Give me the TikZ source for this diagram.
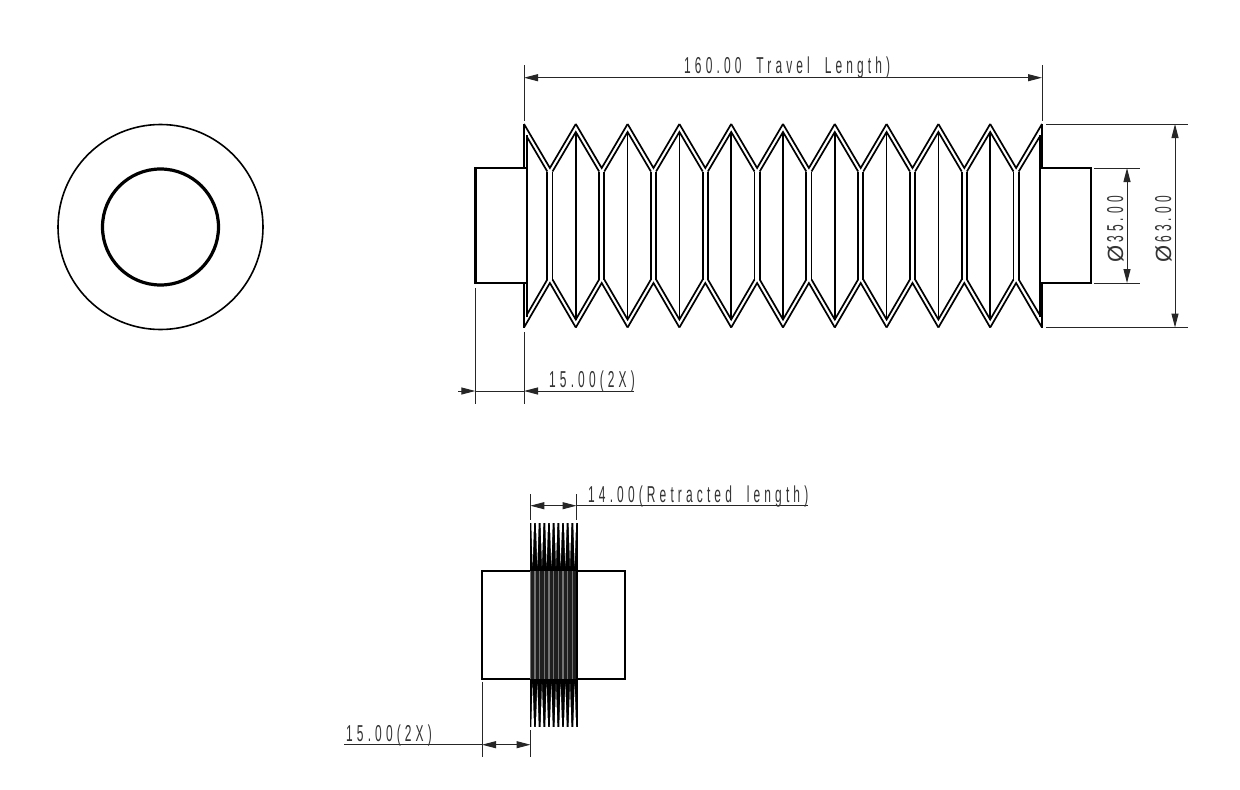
\documentclass[tikz,border=0pt]{standalone}
\usepackage{fontspec}
\usetikzlibrary{arrows.meta}
\newfontfamily\dimfont[FakeStretch=0.52,LetterSpace=18,WordSpace=2]{Liberation Sans}
\newfontfamily\diafont{Liberation Sans}
\tikzset{
  x=1pt,y=-1pt,
  geo/.style={line width=1.7pt,line join=miter,black},
  heavy/.style={line width=2.4pt,line join=miter,black},
  fine/.style={line width=1pt,black!85},
  tip/.style={-{Stealth[length=14pt,width=7pt,inset=0pt]}},
  dimtext/.style={inner sep=0pt,font=\dimfont\fontsize{23}{23}\selectfont,text=black!80},
}
\newcommand{\dia}{{\diafont\fontsize{22}{22}\selectfont Ø}\hspace{3pt}}
\begin{document}
\begin{tikzpicture}
\useasboundingbox (0,0) rectangle (1240,790);
\fill[white] (0,0) rectangle (1240,790);
% end view
\coordinate (cc) at (160.5,227);
\draw[line width=1.6pt] (cc) circle[radius=102.5];
\draw[line width=3.2pt] (cc) circle[radius=58];
% long bellows
\def\yt{124}\def\yb{327.5}\def\yv{168}\def\yw{283}
\def\yvi{171.5}\def\ywi{279.5}
\foreach \i in {0,...,9}{
  \pgfmathsetmacro{\xa}{524+51.8*\i}
  \pgfmathsetmacro{\xb}{\xa+25.9}
  \pgfmathsetmacro{\xc}{\xa+51.8}
  \draw[geo] (\xa,\yt) -- (\xb,\yv) -- (\xc,\yt);
  \draw[geo] (\xa,\yb) -- (\xb,\yw) -- (\xc,\yb);
  \draw[geo] (\xb-2.6,\yvi) -- (\xb-2.6,\ywi);
  \draw[geo] (\xb+2.6,\yvi) -- (\xb+2.6,\ywi);
  \ifnum\i>0
    \draw[geo] (\xa,\yt+8) -- (\xa,\yb-8);
    \draw[geo] (\xa-23.3,\yvi) -- (\xa,\yt+8) -- (\xa+23.3,\yvi);
    \draw[geo] (\xa-23.3,\ywi) -- (\xa,\yb-8) -- (\xa+23.3,\ywi);
  \fi
}
\draw[geo] (527,137) -- (547.3,\yvi) (527,314.5) -- (547.3,\ywi);
\draw[geo] (1039.5,137) -- (1018.7,\yvi) (1039.5,314.5) -- (1018.7,\ywi);
\draw[geo] (527,135) -- (527,316.5);
\draw[geo] (1040,135) -- (1040,316.5);
\draw[heavy,line width=2pt] (524,\yt) -- (524,\yv) (524,\yw) -- (524,\yb);
\draw[heavy,line width=2pt] (1042,\yt) -- (1042,\yv) (1042,\yw) -- (1042,\yb);
\draw[heavy] (527,\yv) -- (475.3,\yv) -- (475.3,\yw) -- (527,\yw);
\draw[heavy] (1040,\yv) -- (1091,\yv) -- (1091,\yw) -- (1040,\yw);
% travel length
\coordinate (tl) at (524,77.7); \coordinate (tr) at (1042,77.7);
\draw[fine] (524,65) -- (524,121) (1042,65) -- (1042,121);
\draw[fine,tip] (783,77.7) -- (tl);
\draw[fine,tip] (783,77.7) -- (tr);
\node[dimtext,anchor=base west] (t160) at (684,73) {160.00 Travel Length)};
% 15 upper
\coordinate (ua) at (475.3,391); \coordinate (ub) at (524,391);
\draw[fine] (475.3,288) -- (475.3,404) (524,332) -- (524,404);
\draw[fine] (ua) -- (ub);
\draw[fine,tip] (458,391) -- (ua);
\draw[fine,tip] (634,391) -- (ub);
\node[dimtext,anchor=base west] (t15a) at (549,387) {15.00(2X)};
% dia 35
\coordinate (p35t) at (1127,168); \coordinate (p35b) at (1127,283);
\draw[fine] (1094,168) -- (1140,168) (1094,283) -- (1140,283);
\draw[fine,tip] (1127,225) -- (p35t);
\draw[fine,tip] (1127,225) -- (p35b);
\node[dimtext,rotate=90,anchor=base west] (t35) at (1123,263) {\dia 35.00};
% dia 63
\coordinate (p63t) at (1175,124); \coordinate (p63b) at (1175,327.5);
\draw[fine] (1046,124) -- (1188,124) (1046,327.5) -- (1188,327.5);
\draw[fine,tip] (1175,225) -- (p63t);
\draw[fine,tip] (1175,225) -- (p63b);
\node[dimtext,rotate=90,anchor=base west] (t63) at (1171,263) {\dia 63.00};
% retracted view
\def\yT{523}\def\yB{727}\def\yV{571}\def\yW{679}
\fill[black] (529.5,\yT) rectangle (577.5,\yB);
\foreach \i in {0,...,9}{
  \pgfmathsetmacro{\xb}{530.3+4.67*\i+2.335}
  \fill[white] (\xb-1.4,\yT-.5) -- (\xb+1.4,\yT-.5) -- (\xb,566) -- cycle;
  \fill[white] (\xb-1.4,\yB+.5) -- (\xb+1.4,\yB+.5) -- (\xb,684) -- cycle;
}
\fill[black!88] (530,\yV) rectangle (576,\yW);
\foreach \i in {0,...,9}{
  \pgfmathsetmacro{\xa}{530.3+4.67*\i}
  \draw[line width=1.1pt,black!55] (\xa,\yV) -- (\xa,\yW);
}
\draw[line width=1.6pt] (530,\yV) -- (482,\yV) -- (482,\yW) -- (530,\yW);
\draw[line width=1.6pt] (577,\yV) -- (625,\yV) -- (625,\yW) -- (577,\yW);
% 14
\coordinate (ra) at (530.3,505.7); \coordinate (rb) at (576.5,505.7);
\draw[fine] (530.3,494) -- (530.3,520) (576.5,494) -- (576.5,520);
\draw[fine,tip] (553,505.7) -- (ra);
\draw[fine,tip] (553,505.7) -- (rb);
\draw[fine] (576.5,505.7) -- (808,505.7);
\node[dimtext,anchor=base west] (t14) at (588,502) {14.00(Retracted length)};
% 15 lower
\coordinate (la) at (482,744.7); \coordinate (lb) at (530.5,744.7);
\draw[fine] (482,682) -- (482,757) (530.5,730) -- (530.5,757);
\draw[fine,tip] (506,744.7) -- (la);
\draw[fine,tip] (506,744.7) -- (lb);
\draw[fine] (482,744.7) -- (344,744.7);
\node[dimtext,anchor=base west] (t15b) at (346,741) {15.00(2X)};
\end{tikzpicture}
\end{document}
